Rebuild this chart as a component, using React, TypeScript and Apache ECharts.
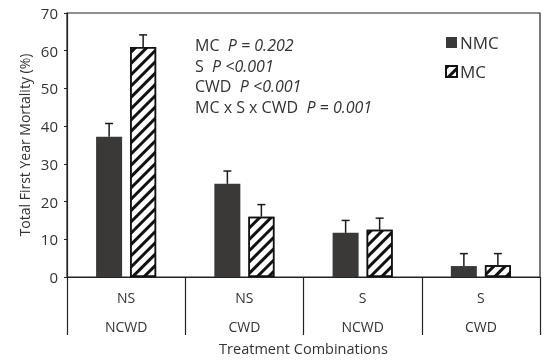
import React, { useEffect, useRef } from "react";
import * as echarts from "echarts";

const topLabels = ["NS", "NS", "S", "S"];
const bottomLabels = ["NCWD", "CWD", "NCWD", "CWD"];
const categories = topLabels.map((t, i) => `${t}\n${bottomLabels[i]}`);
const nmcValues = [37.2, 24.7, 11.7, 2.9];
const nmcErrors = [3.5, 3.4, 3.3, 3.3];
const mcValues = [61.0, 16.0, 12.5, 3.1];
const mcErrors = [3.2, 3.2, 3.1, 3.1];
const yTicks = { min: 0, max: 70, interval: 10 };
const statLines = [
  ["MC", "P = 0.202"],
  ["S", "P <0.001"],
  ["CWD", "P <0.001"],
  ["MC x S x CWD", "P = 0.001"],
];

const FONT = "'Open Sans', Lato, sans-serif";
const TEXT = "#333";
const DARK = "#3b3838";

const hatch = {
  symbol: "rect",
  symbolSize: 1,
  color: "#111",
  backgroundColor: "#fff",
  dashArrayX: [1, 0],
  dashArrayY: [2.2, 4.2],
  rotation: -Math.PI / 4,
};

function errorSeries(values: number[], errors: number[], offset: number) {
  return {
    type: "custom",
    silent: true,
    z: 5,
    data: values.map((v, i) => [i, v, v + errors[i]]),
    renderItem: (params: any, api: any) => {
      const base = api.coord([api.value(0), api.value(1)]);
      const top = api.coord([api.value(0), api.value(2)]);
      const x = base[0] + offset;
      return {
        type: "group",
        children: [
          {
            type: "line",
            shape: { x1: x, y1: base[1], x2: x, y2: top[1] },
            style: { stroke: "#1a1a1a", lineWidth: 1.5 },
          },
          {
            type: "line",
            shape: { x1: x - 4, y1: top[1], x2: x + 4, y2: top[1] },
            style: { stroke: "#1a1a1a", lineWidth: 1.5 },
          },
        ],
      };
    },
  };
}

export default function App() {
  const ref = useRef<HTMLDivElement>(null);
  useEffect(() => {
    if (!ref.current) return;
    const chart = echarts.init(ref.current, undefined, { renderer: "svg" });
    chart.setOption({
      animation: false,
      textStyle: { fontFamily: FONT },
      grid: {
        left: 67,
        right: 10,
        top: 13,
        bottom: 85,
        show: true,
        borderColor: "#222",
        borderWidth: 1.2,
        outerBoundsMode: "none",
        containLabel: false,
      },
      legend: {
        orient: "vertical",
        left: 445,
        top: 34,
        padding: 0,
        itemWidth: 11,
        itemHeight: 11,
        itemGap: 12,
        icon: "rect",
        textStyle: { fontSize: 17, color: TEXT, fontFamily: FONT, padding: [0, 0, 0, -2] },
        data: ["NMC", "MC"],
      },
      xAxis: {
        type: "category",
        data: categories,
        axisLine: { lineStyle: { color: "#222", width: 1.2 } },
        axisTick: { show: true, length: 58, lineStyle: { color: "#222", width: 1.2 } },
        axisLabel: {
          color: TEXT,
          fontSize: 14,
          lineHeight: 29,
          margin: 6,
          fontFamily: FONT,
        },
        name: "Treatment Combinations",
        nameLocation: "middle",
        nameGap: 64,
        nameMoveOverlap: false,
        nameTextStyle: { color: TEXT, fontSize: 14.5, fontFamily: FONT },
      },
      yAxis: {
        type: "value",
        min: yTicks.min,
        max: yTicks.max,
        interval: yTicks.interval,
        splitLine: { show: false },
        axisLine: { show: true, lineStyle: { color: "#222", width: 1.2 } },
        axisTick: { show: true, length: 3, lineStyle: { color: "#222", width: 1 } },
        axisLabel: { color: TEXT, fontSize: 15, margin: 9, fontFamily: FONT },
        name: "Total First Year Mortality (%)",
        nameLocation: "middle",
        nameGap: 36,
        nameMoveOverlap: false,
        nameTextStyle: { color: TEXT, fontSize: 14, fontFamily: FONT },
      },
      graphic: statLines.map((l, i) => ({
        type: "text",
        left: 195,
        top: 37 + i * 20.5,
        style: {
          text: `${l[0]}  {i|${l[1]}}`,
          fontSize: 16,
          fill: TEXT,
          fontFamily: FONT,
          rich: { i: { fontStyle: "italic", fontSize: 16, fill: TEXT, fontFamily: FONT } },
        },
      })),
      series: [
        {
          name: "NMC",
          type: "bar",
          data: nmcValues,
          barWidth: 26,
          barGap: "31%",
          itemStyle: { color: DARK },
        },
        {
          name: "MC",
          type: "bar",
          data: mcValues,
          barWidth: 26,
          itemStyle: { color: "#fff", borderColor: "#111", borderWidth: 1.5, decal: hatch },
        },
        errorSeries(nmcValues, nmcErrors, -17),
        errorSeries(mcValues, mcErrors, 17),
      ],
    });
    return () => chart.dispose();
  }, []);
  return (
    <div
      ref={ref}
      style={{ position: "fixed", left: 0, top: 0, width: 550, height: 362 }}
    />
  );
}
